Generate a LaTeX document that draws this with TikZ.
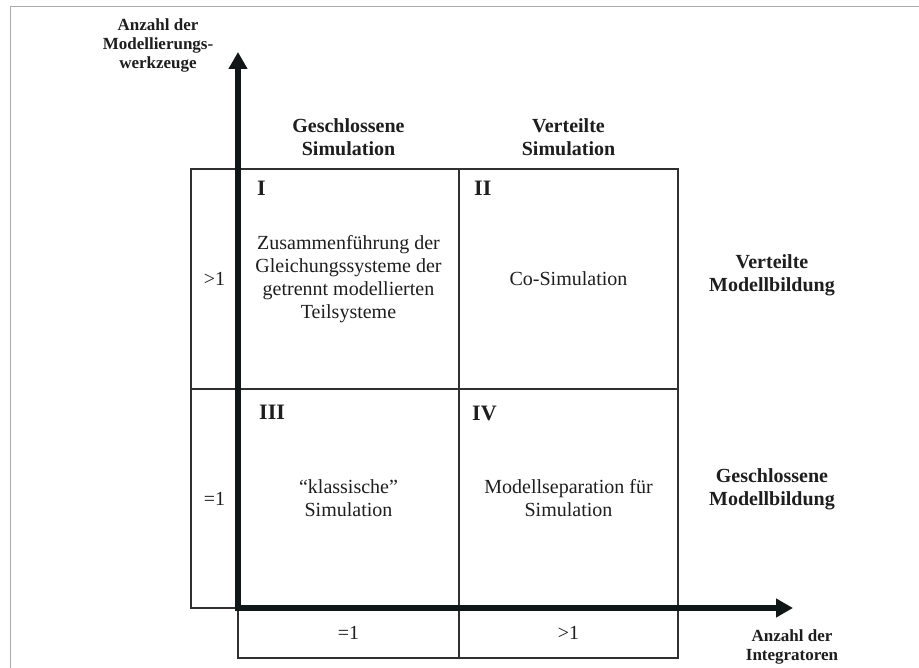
\documentclass[tikz,border=0pt]{standalone}
\usepackage{fontspec}
\setmainfont{Liberation Serif}
\usetikzlibrary{arrows.meta}
\definecolor{ink}{HTML}{1E1E1E}
\definecolor{gridc}{HTML}{303030}
\definecolor{framec}{HTML}{ABABAB}
\definecolor{axisc}{HTML}{111616}
\begin{document}
\begin{tikzpicture}[x=1pt,y=-1pt,
  cell/.style={draw=gridc, line width=1.6pt, inner sep=0pt, align=center, text=ink, font=\fontsize{20}{23}\selectfont},
  head/.style={align=center, inner sep=0pt, text=ink, font=\bfseries\fontsize{20}{23}\selectfont},
  num/.style={anchor=west, inner sep=0pt, text=ink, font=\bfseries\fontsize{22}{24}\selectfont},
  axlab/.style={align=center, inner sep=0pt, text=ink, font=\bfseries\fontsize{17}{19}\selectfont},
  axisline/.style={draw=axisc, line width=6.5pt, -{Triangle[width=18pt,length=17pt]}}]
\useasboundingbox (0,0) rectangle (919,668);
\fill[white] (0,0) rectangle (919,668);
\draw[framec, line width=1.6pt] (10.5,668) -- (10.5,6.5) -- (919,6.5);

% quadrants
\node[cell, minimum width=221pt, minimum height=220pt] (q1) at (348.5,279)
  {Zusammenführung der\\Gleichungssysteme der\\getrennt modellierten\\Teilsysteme};
\node[cell, minimum width=219pt, minimum height=220pt] (q2) at (568.5,279) {Co-Simulation};
\node[cell, minimum width=221pt, minimum height=219pt] (q3) at (348.5,498.5) {“klassische”\\Simulation};
\node[cell, minimum width=219pt, minimum height=219pt] (q4) at (568.5,498.5) {Modellseparation für\\Simulation};

% left column
\node[cell, minimum width=47pt, minimum height=220pt] (l1) at (214.5,279) {\raisebox{-6pt}{>1}};
\node[cell, minimum width=47pt, minimum height=219pt] (l2) at (214.5,498.5) {\raisebox{-4pt}{=1}};

% bottom row
\node[cell, minimum width=221pt, minimum height=50pt] (b1) at (348.5,633) {=1};
\node[cell, minimum width=219pt, minimum height=50pt] (b2) at (568.5,633) {>1};

% numerals
\node[num] (n1) at (257,188) {I};
\node[num] (n2) at (474,188) {II};
\node[num] (n3) at (259,412) {III};
\node[num] (n4) at (472,413) {IV};

% headers
\node[head] (hc1) at (348.5,137) {Geschlossene\\Simulation};
\node[head] (hc2) at (568.5,137) {Verteilte\\Simulation};
\node[head] (hr1) at (772,275) {Verteilte\\Modellbildung};
\node[head] (hr2) at (772,489) {Geschlossene\\Modellbildung};

% axes
\coordinate (ybase) at (238,611.25);
\coordinate (ytip) at (238,52);
\coordinate (xbase) at (234.75,608);
\coordinate (xtip) at (793,608);
\draw[axisline] (ybase) -- (ytip);
\draw[axisline] (xbase) -- (xtip);

% axis labels
\node[axlab] (ay) at (158,45) {Anzahl der\\Modellierungs-\\werkzeuge};
\node[axlab] (ax) at (792,647) {Anzahl der\\Integratoren};
\end{tikzpicture}
\end{document}
